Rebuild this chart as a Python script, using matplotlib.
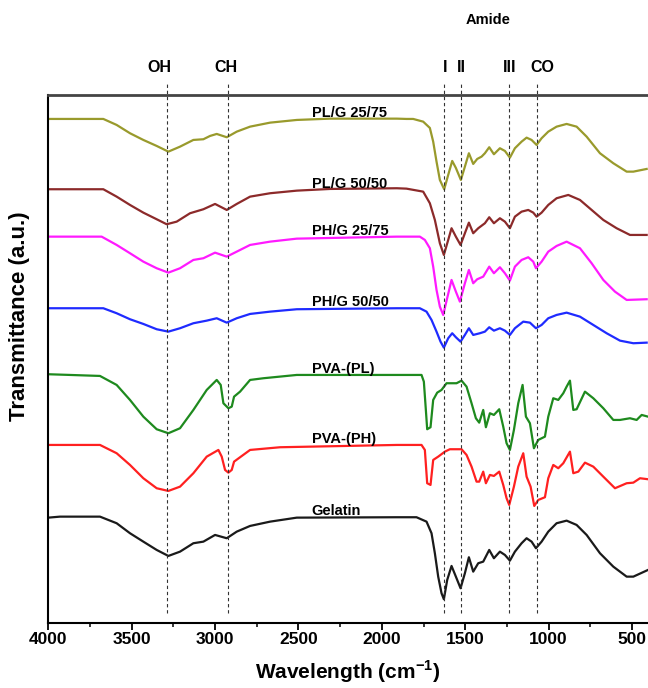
import matplotlib
matplotlib.use("Agg")
import matplotlib.pyplot as plt
from matplotlib.ticker import MultipleLocator

plt.rcParams['font.family'] = ['Liberation Sans', 'DejaVu Sans']
plt.rcParams['font.weight'] = 'bold'
plt.rcParams['mathtext.fontset'] = 'custom'
plt.rcParams['mathtext.rm'] = 'Liberation Sans:bold'
plt.rcParams['mathtext.bf'] = 'Liberation Sans:bold'

# spectres FTIR (nombre d'onde cm-1, transmittance u.a. décalée)
wn_plg2575 = [4000, 3670, 3590, 3510, 3430, 3350, 3280, 3210, 3130, 3070, 3030, 2990, 2930, 2870, 2790, 2670, 2510, 2310, 1910,
              1852, 1812, 1752, 1712, 1692, 1672, 1652, 1626, 1602, 1578, 1556, 1526, 1502, 1478, 1452, 1428, 1402, 1382, 1356,
              1328, 1292, 1262, 1232, 1202, 1162, 1132, 1102, 1072, 1042, 1002, 952, 892, 832, 772, 692, 612, 532, 492, 412]
t_plg2575 = [503.7, 503.7, 497.7, 489.4, 482.7, 476.7, 471, 476, 482.7, 483.4, 486.7, 488.7, 485.4, 491, 496, 500, 502.7, 504, 504,
             503.7, 503.7, 501, 494.7, 481, 461, 442.7, 433.4, 447.7, 461.7, 454.7, 442.7, 456, 469.4, 458.7, 463.7, 466, 469.4, 475.4,
             468.4, 474.4, 471.7, 465, 474.4, 481, 485, 482.7, 477.7, 484.4, 491, 496, 498.7, 496, 486, 469.4, 459.4, 451, 451, 453.7]

wn_plg5050 = [4000, 3670, 3590, 3510, 3430, 3350, 3290, 3230, 3150, 3070, 3000, 2930, 2870, 2790, 2670, 2510, 2310, 1910,
              1852, 1752, 1712, 1682, 1652, 1628, 1602, 1582, 1556, 1528, 1502, 1478, 1452, 1422, 1382, 1356, 1328, 1292,
              1262, 1232, 1202, 1162, 1122, 1092, 1072, 1042, 1002, 952, 882, 812, 742, 672, 592, 512, 412]
t_plg5050 = [433.4, 433.4, 426, 417.7, 410, 403.4, 398.4, 401, 409.4, 413.4, 418.7, 412.7, 418.7, 426, 429.4, 432, 433.7, 434.4,
             434, 431, 419.4, 402.7, 379.4, 367.7, 382.7, 394.4, 386, 377.7, 389.4, 400, 389.4, 394.4, 399.4, 405.4, 399.4, 404.4,
             401, 394.4, 406, 411, 412.7, 410, 406, 410, 417.7, 424.4, 427.7, 422.7, 412.7, 402.7, 394.4, 387.7, 387.7]

wn_phg2575 = [4000, 3680, 3590, 3510, 3430, 3350, 3280, 3210, 3130, 3070, 3000, 2930, 2870, 2790, 2670, 2510, 1910,
              1772, 1742, 1712, 1692, 1672, 1652, 1632, 1606, 1582, 1556, 1532, 1502, 1478, 1452, 1428, 1392, 1356, 1328,
              1292, 1262, 1232, 1202, 1162, 1122, 1092, 1076, 1042, 1002, 952, 892, 812, 742, 672, 602, 532, 412]
t_phg2575 = [386, 386, 377.7, 369.4, 361, 354.4, 350, 354.4, 362.7, 364.4, 370, 366, 371, 377.7, 381, 384, 386,
             386, 382.7, 374.4, 356, 332.7, 316, 307.7, 326, 342.7, 331, 321, 339.4, 352.7, 339.4, 343.4, 346, 356, 349.4,
             355.4, 349.4, 342, 356, 362.7, 365.4, 361, 354.4, 361, 371, 376.7, 381, 374.4, 359.4, 342.7, 331, 322.7, 323.4]

wn_phg5050 = [4000, 3670, 3590, 3510, 3430, 3350, 3280, 3210, 3130, 3050, 2990, 2930, 2870, 2790, 2670, 2510, 1910,
              1772, 1732, 1702, 1672, 1648, 1628, 1602, 1578, 1556, 1528, 1502, 1478, 1452, 1412, 1382, 1356, 1328, 1292,
              1262, 1232, 1202, 1152, 1112, 1076, 1042, 1002, 952, 892, 812, 732, 652, 572, 492, 412]
t_phg5050 = [314.4, 314.4, 309.4, 303.4, 298.7, 293.4, 291, 294.4, 299.4, 302, 304.4, 300, 304.4, 308.7, 311, 313.4, 314.4,
             314.4, 311, 302.7, 291, 281, 275, 284.4, 289.4, 285.4, 281, 287.7, 294.4, 287.7, 289.4, 291, 295.4, 292, 294.4,
             292, 287.7, 294.4, 301, 300, 294.4, 297.7, 304.4, 307.7, 310, 306, 297.7, 289.4, 282, 279.4, 280]

wn_pvapl = [4000, 3870, 3690, 3590, 3510, 3430, 3350, 3280, 3210, 3130, 3050, 2990, 2966, 2950, 2920, 2900, 2886, 2850, 2790,
            2710, 2510, 1910, 1762, 1748, 1736, 1728, 1708, 1692, 1668, 1642, 1612, 1582, 1552, 1522, 1492, 1462, 1436,
            1416, 1392, 1376, 1352, 1328, 1296, 1272, 1252, 1232, 1208, 1182, 1156, 1136, 1112, 1088, 1062, 1022, 1002,
            972, 942, 912, 892, 872, 852, 832, 782, 732, 672, 612, 572, 512, 472, 442, 404]
t_pvapl = [248.4, 247.7, 246.7, 237.7, 222.7, 206, 193.4, 189.4, 194.4, 212.7, 232.7, 242.7, 237.7, 219.4, 214.4, 216, 226, 231, 242.7,
           244.4, 247.7, 247.7, 247.7, 241, 212.7, 193.4, 195.4, 222.7, 230, 232.7, 239.4, 239.4, 239.4, 242, 236, 219.4, 204.4,
           200, 212.7, 195.4, 209.4, 207.7, 213.4, 196, 179.4, 172.7, 192.7, 219.4, 237.7, 206, 199.4, 174.4, 182.7, 186, 206,
           224.4, 222.7, 229.4, 236, 242, 212.7, 213.4, 231, 224.4, 214.4, 202.7, 202.7, 204.4, 202.7, 207.7, 206]

wn_pvaph = [4000, 3690, 3590, 3510, 3430, 3350, 3280, 3210, 3130, 3050, 2980, 2960, 2940, 2920, 2900, 2886, 2850, 2790, 2610,
            1910, 1762, 1742, 1728, 1708, 1692, 1662, 1622, 1592, 1522, 1492, 1462, 1432, 1416, 1392, 1376, 1352, 1328,
            1296, 1272, 1252, 1236, 1208, 1182, 1152, 1132, 1108, 1086, 1062, 1022, 1002, 972, 942, 912, 872, 852, 822,
            782, 732, 672, 602, 532, 492, 452, 404]
t_pvaph = [177.7, 177.7, 169.4, 157.7, 144.4, 134.4, 131.7, 136, 149.4, 166, 172.7, 166, 152.7, 150, 152.7, 161, 165.4, 172.7, 175.4,
           177.7, 177.7, 172.7, 139.4, 137.7, 162.7, 166, 171, 173.4, 173.4, 167.7, 156, 141, 141, 151, 139.4, 147.7, 146.7,
           151, 137.7, 124.4, 117.7, 136, 156, 169.4, 146, 136, 116.7, 122.7, 125.4, 144.4, 157.7, 154.4, 159.4, 171, 149.4, 151,
           160, 156, 146, 134.4, 139.4, 140, 144.4, 143.4]

wn_gel = [4000, 3930, 3690, 3590, 3510, 3430, 3350, 3280, 3210, 3130, 3070, 3000, 2930, 2870, 2790, 2670, 2510, 1910,
          1792, 1732, 1702, 1682, 1662, 1642, 1628, 1608, 1582, 1556, 1528, 1502, 1478, 1452, 1422, 1392, 1356, 1328,
          1292, 1262, 1232, 1202, 1162, 1132, 1102, 1076, 1042, 1002, 952, 892, 832, 772, 692, 612, 532, 492, 404]
t_gel = [105, 106, 106, 99.4, 89.4, 81, 72.7, 66.7, 71, 79.4, 81, 87.7, 84.4, 91, 96.7, 101, 105, 105.4,
         105.4, 101, 89.4, 69.4, 46, 29.4, 23.4, 42.7, 56.7, 46, 34.4, 49.4, 65.4, 51, 59.4, 61, 72.7, 64.4,
         71, 67.7, 62, 71, 79.4, 84.4, 81, 74.4, 81, 91, 99.4, 102, 97.7, 87.7, 69.4, 56, 46, 46, 52.7]

noms = ["PL/G 25/75", "PL/G 50/50", "PH/G 25/75", "PH/G 50/50", "PVA-(PL)", "PVA-(PH)", "Gelatin"]
couleurs = ["#999a2c", "#8c2a2a", "#ff1aff", "#1f2bff", "#1e8a1e", "#ff2020", "#1a1a1a"]
pos_noms = [506, 435, 388, 317, 250, 180, 108]

# bandes caractéristiques
bandes = [3290, 2925, 1625, 1525, 1235, 1070]
noms_bandes = ["OH", "CH", "I", "II", "III", "CO"]
x_noms_bandes = [3335, 2933, 1622, 1524, 1232, 1040]

spectres = [(wn_plg2575, t_plg2575), (wn_plg5050, t_plg5050), (wn_phg2575, t_phg2575), (wn_phg5050, t_phg5050),
            (wn_pvapl, t_pvapl), (wn_pvaph, t_pvaph), (wn_gel, t_gel)]

fig = plt.figure(figsize=(6.48, 6.88), dpi=100)
ax = fig.add_axes([0.0745, 0.095, 0.9255, 0.767])

for (w, t), c, n, yn in zip(spectres, couleurs, noms, pos_noms):
    ax.plot(w, t, color=c, lw=1.6)
    ax.text(2420, yn, n, fontsize=10.5, fontweight='bold', ha='left', va='baseline')

for b in bandes:
    ax.plot([b, b], [10, 540], ls=(0, (3, 2.5)), color='#333333', lw=0.8, clip_on=False)
for xb, nb in zip(x_noms_bandes, noms_bandes):
    ax.text(xb, 555, nb, fontsize=11.5, fontweight='bold', ha='center', va='center')
ax.text(1362, 603, "Amide", fontsize=10.5, fontweight='bold', ha='center', va='center')

ax.set_xlim(4000, 404)
ax.set_ylim(0, 527.7)
ax.xaxis.set_major_locator(MultipleLocator(500))
ax.xaxis.set_minor_locator(MultipleLocator(250))
ax.tick_params(axis='x', which='major', direction='out', length=5, width=1.3, pad=2, labelsize=12.5)
ax.tick_params(axis='x', which='minor', direction='out', length=3, width=1.1)
ax.set_yticks([])
for lab in ax.get_xticklabels():
    lab.set_fontweight('bold')

ax.spines['top'].set_color('#444444')
ax.spines['top'].set_linewidth(2)
ax.spines['left'].set_linewidth(1.5)
ax.spines['bottom'].set_linewidth(1.5)
ax.spines['right'].set_visible(False)

ax.set_xlabel(r"Wavelength (cm$^{-1}$)", fontsize=15, fontweight='bold', labelpad=8)
ax.set_ylabel("Transmittance (a.u.)", fontsize=16, fontweight='bold')
ax.yaxis.set_label_coords(-0.03, 0.58)

plt.savefig("out.png", dpi=100)
